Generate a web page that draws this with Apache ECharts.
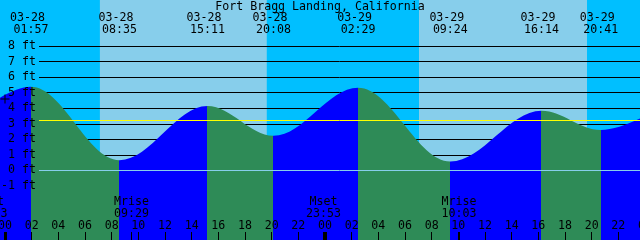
<!DOCTYPE html>
<html><head><meta charset="utf-8">
<script src="https://cdn.jsdelivr.net/npm/echarts@6/dist/echarts.min.js"></script>
<style>html,body{margin:0;padding:0;background:#00BFFF}#c{width:640px;height:240px}</style>
</head><body><div id="c"></div>
<script>
// ---------------- data ----------------
const stationTitle = 'Fort Bragg Landing, California';
// tide extremes labelled along the top
const extremeDate   = ['03-28','03-28','03-28','03-28','03-29','03-29','03-29','03-29'];
const extremeTime   = ['01:57','08:35','15:11','20:08','02:29','09:24','16:14','20:41'];
const extremeHeight = [5.38, 0.66, 4.14, 2.23, 5.32, 0.58, 3.84, 2.60];
const extremeKind   = ['H','L','H','L','H','L','H','L'];
// extremes just outside the window (estimated from the curve at the edges)
const edgeDate   = ['03-27','03-30'];
const edgeTime   = ['19:35','03:30'];
const edgeHeight = [2.0, 5.3];
const edgeKind   = ['L','H'];
// daylight
const sunDate     = ['03-28','03-29'];
const sunriseTime = ['07:07','07:03'];
const sunsetTime  = ['19:38','19:39'];
// moon events
const moonEvent = ['Mset','Mrise','Mset','Mrise'];
const moonDate  = ['03-27','03-28','03-28','03-29'];
const moonTime  = ['22:53','09:29','23:53','10:03'];
// reference levels (ft)
const meanLevel  = 3.22;
const datumLevel = 0;
// marked current level
const markDate = '03-28', markTime = '00:00', markHeight = 4.59;
// axes
const yTickMin = -1, yTickMax = 8, yTickStep = 1, yUnit = 'ft';
const hourMin = 0, hourMax = 48, hourStep = 2;

// ---------------- styles / layout ----------------
const NIGHT = '#00BFFF', DAY = '#87CEEB', FLOOD = '#0000FF', EBB = '#2E8B57';
const FONT = 'DejaVu Sans Mono', FS = 11.6;
const W = 640, H = 240;
const X0 = 5, PXH = 40/3;           // px at 00:00 of first day, px per hour
const TOP8 = 46, PXFT = 140/9;      // px of top tick line, px per ft
const Y0 = TOP8 + (yTickMax) * PXFT; // px of 0 ft
const EXT = 60;                      // grid overhang beyond canvas

function hrs(d, t) {
  const day = +d.slice(3) - 28;
  const p = t.split(':').map(Number);
  return day * 24 + p[0] + p[1] / 60;
}

const all = [];
all.push({h: hrs(edgeDate[0], edgeTime[0]), v: edgeHeight[0], k: edgeKind[0]});
extremeDate.forEach((d, i) => all.push({h: hrs(d, extremeTime[i]), v: extremeHeight[i], k: extremeKind[i]}));
all.push({h: hrs(edgeDate[1], edgeTime[1]), v: edgeHeight[1], k: edgeKind[1]});
const tideData = all.map(e => [e.h, e.v]);

const pieces = [{lt: all[0].h, color: all[0].k === 'L' ? EBB : FLOOD}];
all.forEach((e, i) => {
  const p = {gte: e.h, color: e.k === 'H' ? EBB : FLOOD};
  if (i < all.length - 1) p.lt = all[i + 1].h;
  pieces.push(p);
});

const dayAreas = sunDate.map((d, i) => [{xAxis: hrs(d, sunriseTime[i])}, {xAxis: hrs(d, sunsetTime[i])}]);

const labelPts = [];
extremeDate.forEach((d, i) => {
  const h = hrs(d, extremeTime[i]);
  labelPts.push({name: d, xAxis: h, y: 17.8, label: {offset: [-3.5, 0]}});
  labelPts.push({name: extremeTime[i], xAxis: h, y: 29.8});
});
moonEvent.forEach((m, i) => {
  const h = hrs(moonDate[i], moonTime[i]);
  labelPts.push({name: m, xAxis: h, y: 201.8});
  labelPts.push({name: moonTime[i], xAxis: h, y: 213.5});
});
labelPts.push({name: '', coord: [hrs(markDate, markTime), markHeight],
  symbol: 'path://M0,4h9v1h-9zM4,0h1v9h-1z', symbolSize: 9, itemStyle: {color: '#000'}, label: {show: false}});

const tickLines = [];
for (let h = hourMin; h <= hourMax; h += 24) tickLines.push({xAxis: h, lineStyle: {width: 3, color: '#000', type: 'solid'}});
moonEvent.forEach((m, i) => tickLines.push({xAxis: hrs(moonDate[i], moonTime[i]), lineStyle: {width: 1, color: '#000', type: 'solid'}}));

const txt = {fontFamily: FONT, fontSize: FS, color: '#000'};

const option = {
  backgroundColor: NIGHT,
  animation: false,
  title: {text: stationTitle, left: 'center', top: 0.6, padding: 0,
    textStyle: Object.assign({fontWeight: 'normal'}, txt)},
  grid: [
    {left: -EXT, right: -EXT, top: 0, bottom: 0, outerBoundsMode: 'none'},
    {left: 39, right: 0, top: TOP8, bottom: H - (Y0 + PXFT), outerBoundsMode: 'none'},
    {left: X0, right: -X0, top: 232, bottom: 0, outerBoundsMode: 'none'}
  ],
  xAxis: [
    {gridIndex: 0, type: 'value', min: -(EXT + X0) / PXH, max: (W + EXT - X0) / PXH, show: false},
    {gridIndex: 1, type: 'value', min: 0, max: 1, show: false},
    {gridIndex: 2, type: 'value', min: hourMin, max: hourMax, interval: hourStep, z: 10, position: 'bottom',
      axisLine: {show: false}, splitLine: {show: false},
      axisTick: {show: true, inside: true, length: 8, lineStyle: {color: '#000', width: 1}},
      axisLabel: Object.assign({inside: true, margin: 8, showMinLabel: true, showMaxLabel: true, hideOverlap: false,
        formatter: v => String(v % 24).padStart(2, '0')}, txt)}
  ],
  yAxis: [
    {gridIndex: 0, type: 'value', min: -(H - Y0) / PXFT, max: Y0 / PXFT, show: false},
    {gridIndex: 1, type: 'value', position: 'left', min: yTickMin, max: yTickMax, interval: yTickStep, z: 1,
      axisLine: {show: false}, axisTick: {show: false}, axisLabel: {show: false},
      splitLine: {show: true, lineStyle: {color: '#000', width: 1}}},
    {gridIndex: 1, type: 'value', position: 'left', min: yTickMin, max: yTickMax, interval: yTickStep, z: 10,
      axisLine: {show: false}, axisTick: {show: false}, splitLine: {show: false},
      axisLabel: Object.assign({margin: 3, formatter: '{value} ' + yUnit}, txt)},
    {gridIndex: 2, type: 'value', min: 0, max: 1, show: false}
  ],
  visualMap: {type: 'piecewise', show: false, dimension: 0, seriesIndex: 0, pieces: pieces},
  series: [
    {type: 'line', xAxisIndex: 0, yAxisIndex: 0, data: tideData, smooth: 0.36, smoothMonotone: 'x',
      symbol: 'none', silent: true, z: 2, lineStyle: {width: 0}, areaStyle: {opacity: 1, origin: 'start'},
      markArea: {silent: true, z: 0, itemStyle: {color: DAY, opacity: 1}, data: dayAreas},
      markPoint: {silent: true, symbol: 'rect', symbolSize: 1, itemStyle: {color: 'rgba(0,0,0,0)'},
        label: Object.assign({show: true, position: 'inside', formatter: '{b}'}, txt), data: labelPts}},
    {type: 'line', xAxisIndex: 1, yAxisIndex: 1, data: [], silent: true,
      markLine: {silent: true, symbol: ['none', 'none'], label: {show: false}, z: 5,
        data: [{yAxis: datumLevel, lineStyle: {color: '#87CEEB', width: 1, type: 'solid'}},
               {yAxis: meanLevel, lineStyle: {color: '#FFFF00', width: 1, type: 'solid'}}]}},
    {type: 'line', xAxisIndex: 2, yAxisIndex: 3, data: [], silent: true,
      markLine: {silent: true, symbol: ['none', 'none'], label: {show: false}, z: 10, data: tickLines}}
  ]
};
const chart = echarts.init(document.getElementById('c'), null, {renderer: 'canvas'});
chart.setOption(option);
</script></body></html>
